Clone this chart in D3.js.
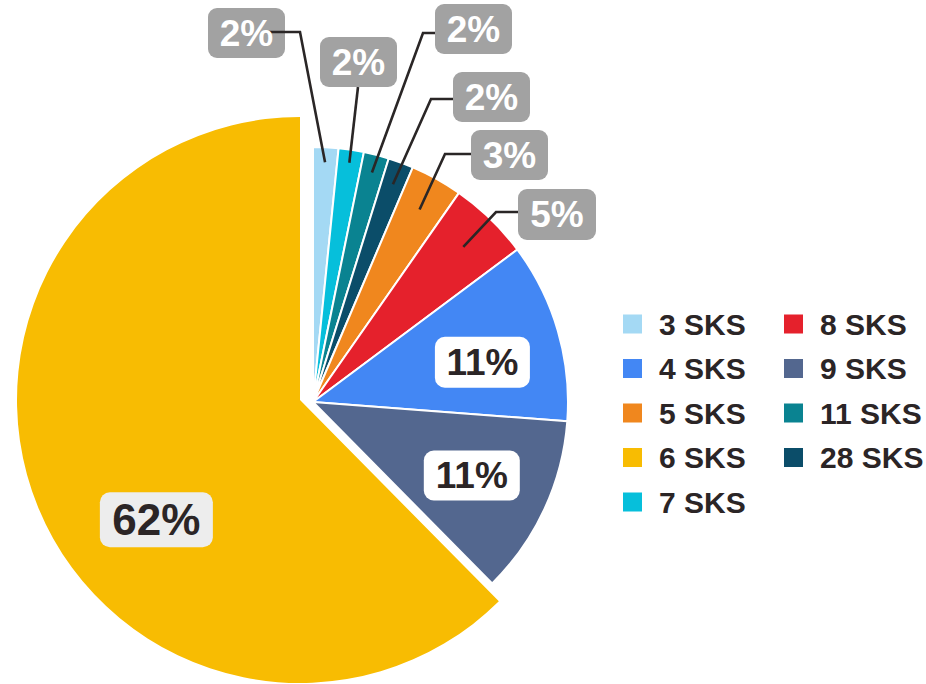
<!DOCTYPE html>
<html><head><meta charset="utf-8">
<script src="https://cdn.jsdelivr.net/npm/d3@7"></script>
<style>body{margin:0;background:#fff}svg{display:block}</style>
</head><body>
<svg id="chart" width="926" height="684"></svg>
<script>
// ---- data ----
const categories = ["3 SKS", "7 SKS", "11 SKS", "28 SKS", "5 SKS", "8 SKS", "4 SKS", "9 SKS", "6 SKS"];
const values     = [1.6, 1.6, 1.6, 1.6, 3.3, 5.1, 11.4, 11.4, 62.4];
const sliceColors = ["#a4d9f4", "#06bfdb", "#0a8391", "#0b4d69", "#f0871e", "#e5212c", "#4387f4", "#53678f", "#f8bc02"];
const legendOrder = ["3 SKS", "4 SKS", "5 SKS", "6 SKS", "7 SKS", "8 SKS", "9 SKS", "11 SKS", "28 SKS"];

// ---- layout ----
const W = 926, H = 684;
const mainCenter = [313, 402], mainR = 255;
const bigCenter = [300, 400], bigR = 283;
const fontFam = "'Liberation Sans', Arial, Helvetica, sans-serif";
const textDark = "#2b2526";
// callout boxes for the small slices (absolute layout positions)
const callouts = {
  "3 SKS":  {r: 240, box: [208, 8, 77, 50],  path: [[300, 32], [268, 32]], over: true},
  "7 SKS":  {r: 242, box: [320, 37, 77, 50], path: [[358, 87]]},
  "11 SKS": {r: 237, box: [435, 4, 77, 50],  path: [[423, 33], [435, 33]]},
  "28 SKS": {r: 232, box: [453, 72, 77, 50], path: [[431, 99], [453, 99]]},
  "5 SKS":  {r: 220, box: [471, 130, 77, 50], path: [[445, 154], [471, 154]]},
  "8 SKS":  {r: 216, box: [518, 189, 78, 51], path: [[496, 212], [518, 212]]}
};
const insideLabels = {
  "4 SKS": {angleShift: 3, r: 174, w: 95, h: 51, fs: 37, fill: "#ffffff"},
  "9 SKS": {angleShift: 0, r: 175, w: 96, h: 50, fs: 37, fill: "#ffffff"},
  "6 SKS": {angleShift: -17.5, r: 187, w: 113, h: 55, fs: 44, fill: "#ededed"}
};

const svg = d3.select("#chart");
const pieData = d3.pie().sort(null).value(d => d)(values);
const color = d3.scaleOrdinal().domain(categories).range(sliceColors);

const gSlices = svg.append("g");
pieData.forEach((d, i) => {
  const isBig = categories[i] === "6 SKS";
  const c = isBig ? bigCenter : mainCenter;
  const arc = d3.arc().innerRadius(0).outerRadius(isBig ? bigR : mainR);
  gSlices.append("path")
    .attr("transform", `translate(${c[0]},${c[1]})`)
    .attr("d", arc(d))
    .attr("fill", color(categories[i]))
    .attr("stroke", "#ffffff")
    .attr("stroke-width", isBig ? 0 : 2)
    .attr("stroke-linejoin", "round");
});

const pct = v => Math.round(v) + "%";

// callouts
const gCall = svg.append("g");
pieData.forEach((d, i) => {
  const cat = categories[i];
  const co = callouts[cat];
  if (!co) return;
  const mid = (d.startAngle + d.endAngle) / 2;
  const start = [mainCenter[0] + co.r * Math.sin(mid), mainCenter[1] - co.r * Math.cos(mid)];
  const pts = [start].concat(co.path);
  const line = d3.line();
  const drawLine = () => gCall.append("path").attr("d", line(pts))
      .attr("fill", "none").attr("stroke", "#2a2626").attr("stroke-width", 2.6)
      .attr("stroke-linejoin", "miter");
  if (!co.over) drawLine();
  const [bx, by, bw, bh] = co.box;
  gCall.append("rect").attr("x", bx).attr("y", by).attr("width", bw).attr("height", bh)
    .attr("rx", 9).attr("ry", 9).attr("fill", "#a2a2a2");
  if (co.over) drawLine();
  gCall.append("text").attr("x", bx + bw / 2).attr("y", by + bh / 2)
    .attr("text-anchor", "middle").attr("dominant-baseline", "central")
    .attr("font-family", fontFam).attr("font-weight", "bold").attr("font-size", 37)
    .attr("fill", "#ffffff").text(pct(values[i]));
});

// inside labels
pieData.forEach((d, i) => {
  const cat = categories[i];
  const il = insideLabels[cat];
  if (!il) return;
  const isBig = cat === "6 SKS";
  const c = isBig ? bigCenter : mainCenter;
  const mid = (d.startAngle + d.endAngle) / 2 + il.angleShift * Math.PI / 180;
  const x = c[0] + il.r * Math.sin(mid), y = c[1] - il.r * Math.cos(mid);
  svg.append("rect").attr("x", x - il.w / 2).attr("y", y - il.h / 2)
    .attr("width", il.w).attr("height", il.h).attr("rx", 10).attr("ry", 10)
    .attr("fill", il.fill);
  svg.append("text").attr("x", x).attr("y", y)
    .attr("text-anchor", "middle").attr("dominant-baseline", "central")
    .attr("font-family", fontFam).attr("font-weight", "bold").attr("font-size", il.fs)
    .attr("fill", textDark).text(pct(values[i]));
});

// legend
const legend = svg.append("g");
const rowsPerCol = 5, rowStep = 44.5, colX = [623, 784], row0 = 324;
legendOrder.forEach((cat, k) => {
  const col = Math.floor(k / rowsPerCol), row = k % rowsPerCol;
  const x = colX[col], y = row0 + row * rowStep;
  legend.append("rect").attr("x", x).attr("y", y - 9.5).attr("width", 19).attr("height", 19)
    .attr("fill", color(cat));
  legend.append("text").attr("x", x + 36).attr("y", y)
    .attr("dominant-baseline", "central")
    .attr("font-family", fontFam).attr("font-weight", "bold").attr("font-size", 30)
    .attr("fill", textDark).text(cat);
});
</script>
</body></html>
